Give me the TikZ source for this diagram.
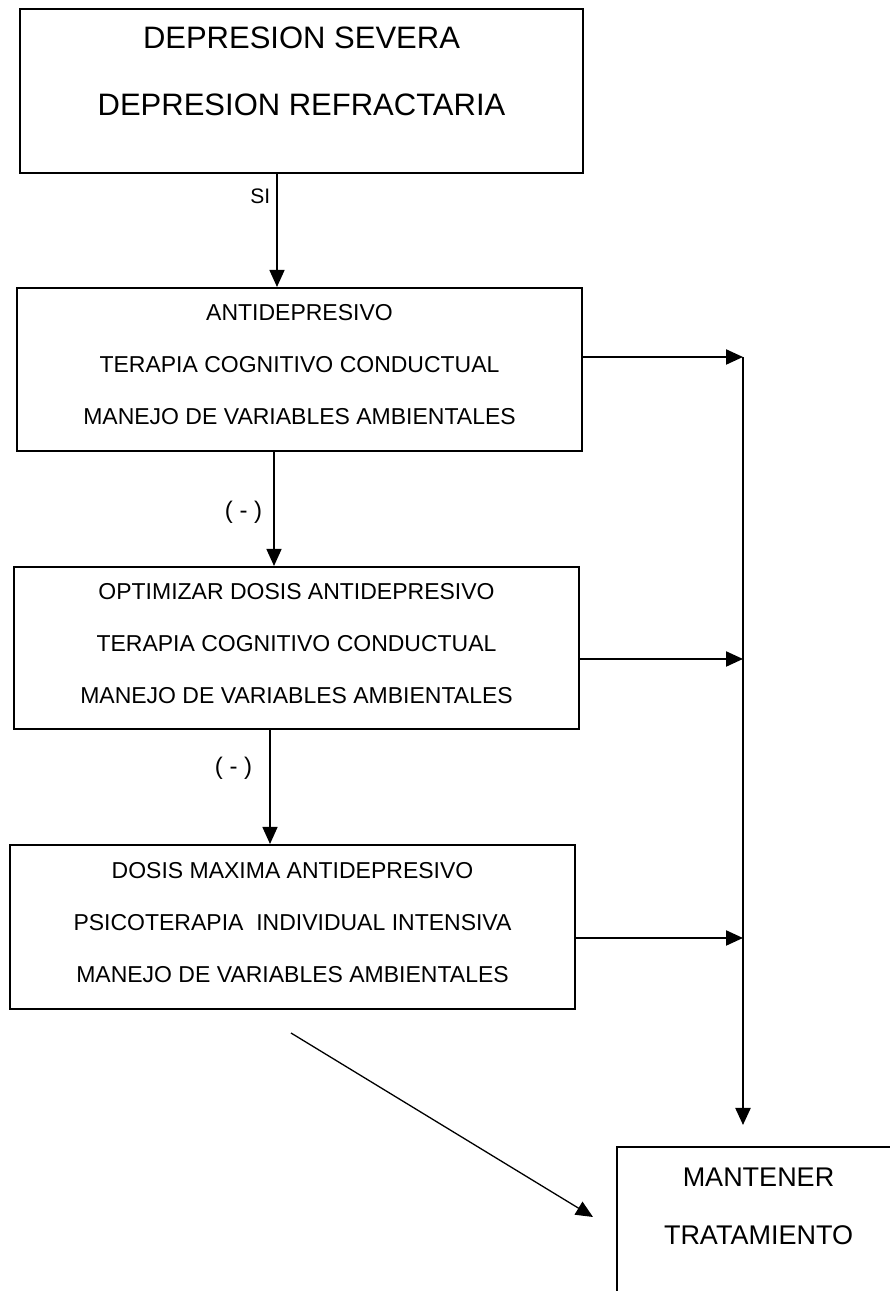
\documentclass[tikz,border=0pt]{standalone}
\usepackage{fontspec}
\setmainfont{Liberation Sans}
\usetikzlibrary{arrows.meta}

\begin{document}
\begin{tikzpicture}[x=1pt, y=1pt,
  caja/.style={draw, line width=2pt, rectangle, align=center, inner sep=0pt},
  textocaja/.style={font=\fontsize{23}{52}\selectfont, text depth=10pt},
  flecha/.style={line width=1.5pt, -{Triangle[length=17pt, width=15pt]}},
  lateral/.style={line width=2.2pt, -{Triangle[length=17pt, width=15pt]}},
  rotulo/.style={inner sep=0pt}]
\useasboundingbox (0,0) rectangle (890,1291);
\def\anchocaja{565pt}
\def\altocaja{163pt}

\coordinate (Csev) at (301.5,1200);
\coordinate (Cant) at (299.5,921.5);
\coordinate (Copt) at (296.5,643);
\coordinate (Cmax) at (292.5,364);
\coordinate (Cmant) at (758.5,57.5);
\coordinate (cruce) at (743,934);
\coordinate (salida2) at (743,632);
\coordinate (salida3) at (743,353);
\coordinate (bajada) at (743,166);
\coordinate (diagA) at (291,258);
\coordinate (diagB) at (593,74);

\node[caja, minimum width=563pt, minimum height=164pt, text depth=39pt,
  font=\fontsize{31}{67}\selectfont] (sev) at (Csev)
  {DEPRESION SEVERA\\DEPRESION REFRACTARIA};
\node[caja, textocaja, minimum width=\anchocaja, minimum height=\altocaja] (ant) at (Cant)
  {ANTIDEPRESIVO\\TERAPIA COGNITIVO CONDUCTUAL\\MANEJO DE VARIABLES AMBIENTALES};
\node[caja, textocaja, minimum width=\anchocaja, minimum height=162pt] (opt) at (Copt)
  {OPTIMIZAR DOSIS ANTIDEPRESIVO\\TERAPIA COGNITIVO CONDUCTUAL\\MANEJO DE VARIABLES AMBIENTALES};
\node[caja, textocaja, minimum width=\anchocaja, minimum height=164pt] (maxd) at (Cmax)
  {DOSIS MAXIMA ANTIDEPRESIVO\\PSICOTERAPIA\ \ INDIVIDUAL INTENSIVA\\MANEJO DE VARIABLES AMBIENTALES};
\node[caja, minimum width=283pt, minimum height=173pt, text depth=55pt,
  font=\fontsize{27}{58}\selectfont] (mant) at (Cmant)
  {MANTENER\\TRATAMIENTO};

\draw[flecha] ([xshift=-24.5pt]sev.south) -- ([xshift=-24.5pt]sev.south |- ant.north)
  node[rotulo, pos=0.2, left=6pt, font=\fontsize{21}{25}\selectfont] (si) {SI};
\draw[flecha] ([xshift=-25.5pt]ant.south) -- ([xshift=-25.5pt]ant.south |- opt.north)
  node[rotulo, pos=0.53, left=11pt, font=\fontsize{24}{28}\selectfont] (neg1) {( - )};
\draw[flecha] ([xshift=-26.5pt]opt.south) -- ([xshift=-26.5pt]opt.south |- maxd.north)
  node[rotulo, pos=0.34, left=17pt, font=\fontsize{24}{28}\selectfont] (neg2) {( - )};

\draw[lateral] (cruce -| ant.east) -- (cruce);
\draw[lateral] (salida2 -| opt.east) -- (salida2);
\draw[lateral] (salida3 -| maxd.east) -- (salida3);
\draw[lateral] (cruce) -- (bajada);
\draw[flecha, line width=1.3pt] (diagA) -- (diagB);
\end{tikzpicture}
\end{document}
